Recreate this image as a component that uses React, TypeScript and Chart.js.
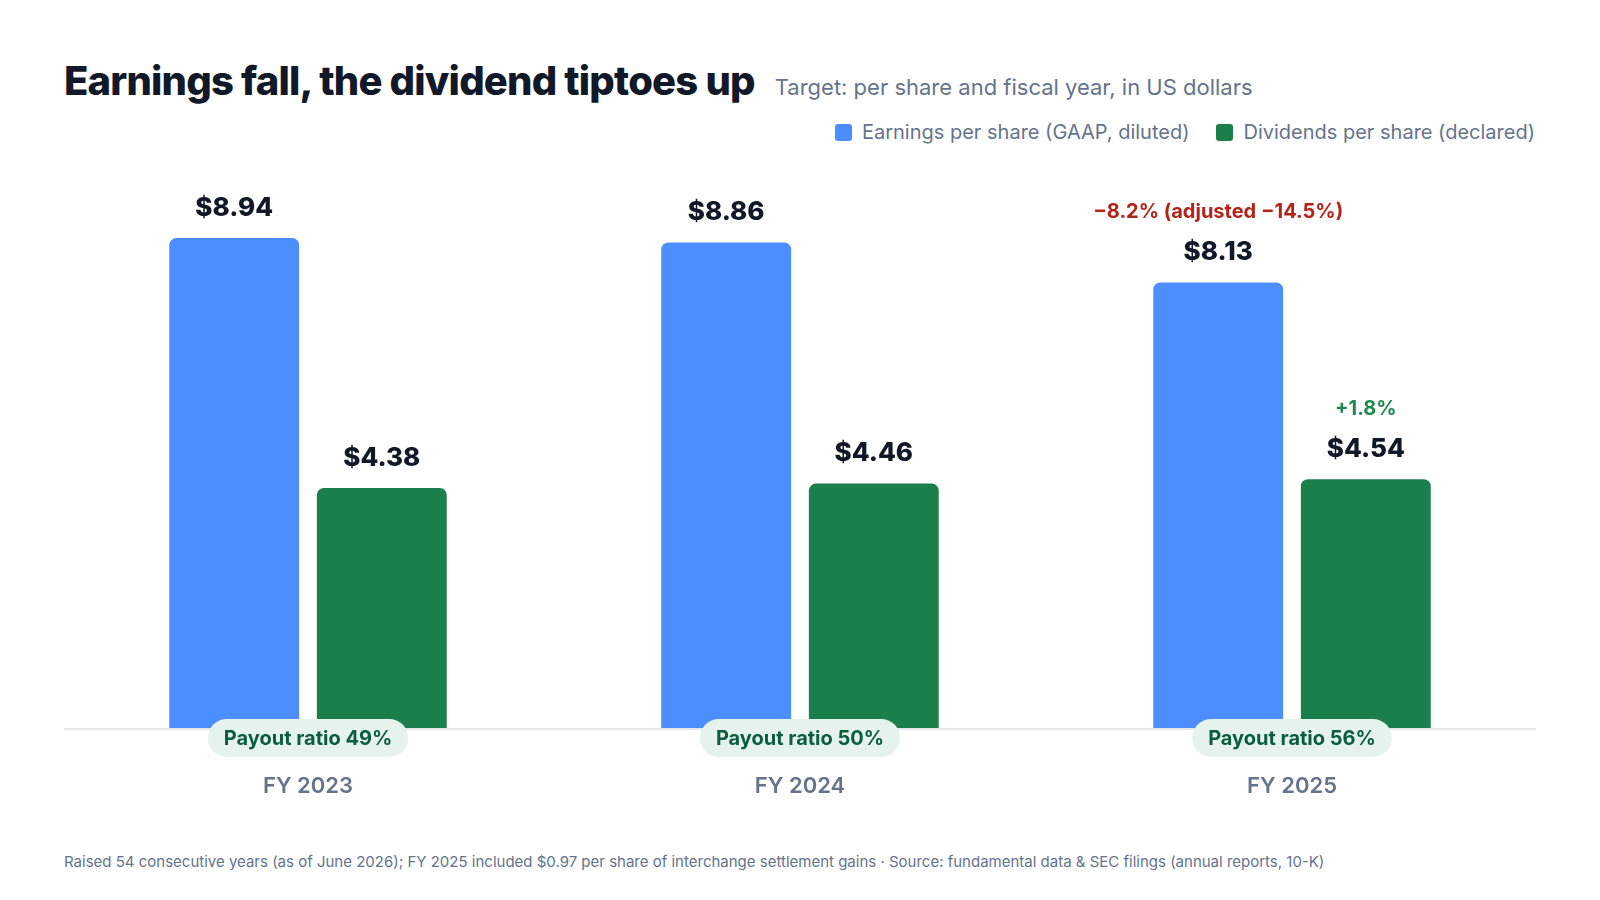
import React, { useEffect, useRef } from "react";
import { Chart, registerables } from "chart.js";

Chart.register(...registerables);

const categories = ["FY 2023", "FY 2024", "FY 2025"];
const epsValues = [8.94, 8.86, 8.13];
const dpsValues = [4.38, 4.46, 4.54];
const payoutRatios = [49, 50, 56];
const seriesLabels = ["Earnings per share (GAAP, diluted)", "Dividends per share (declared)"];
const changeNotes = [
  { dataset: 0, index: 2, text: "\u22128.2% (adjusted \u221214.5%)", color: "#B42318", size: 20 },
  { dataset: 1, index: 2, text: "+1.8%", color: "#1E8A4F", size: 20 },
];
const footerText =
  "Raised 54 consecutive years (as of June 2026); FY 2025 included $0.97 per share of interchange settlement gains \u00b7 Source: fundamental data & SEC filings (annual reports, 10-K)";

const BLUE = "#4C8DFF";
const GREEN = "#1B7F4C";
const FONT = "Inter, 'Noto Sans', sans-serif";

const annotatePlugin = {
  id: "annotate",
  beforeDatasetsDraw(chart: any) {
    const { ctx, chartArea } = chart;
    ctx.save();
    ctx.strokeStyle = "#E5E7EB";
    ctx.lineWidth = 2;
    ctx.beginPath();
    ctx.moveTo(chartArea.left + 2, chartArea.bottom + 1);
    ctx.lineTo(chartArea.right - 2, chartArea.bottom + 1);
    ctx.stroke();
    ctx.restore();
  },
  afterDatasetsDraw(chart: any) {
    const { ctx, chartArea } = chart;
    const xScale = chart.scales.x;
    ctx.save();
    ctx.textAlign = "center";
    ctx.textBaseline = "middle";
    // value labels
    chart.data.datasets.forEach((ds: any, di: number) => {
      const meta = chart.getDatasetMeta(di);
      meta.data.forEach((el: any, i: number) => {
        ctx.fillStyle = "#111827";
        ctx.font = `800 26px ${FONT}`;
        ctx.fillText(`$${ds.data[i].toFixed(2)}`, el.x, el.y - 30);
      });
    });
    // change notes
    changeNotes.forEach((n) => {
      const el = chart.getDatasetMeta(n.dataset).data[n.index];
      ctx.fillStyle = n.color;
      ctx.font = `700 ${n.size}px ${FONT}`;
      ctx.fillText(n.text, el.x, el.y - 70);
    });
    // payout pills + category labels
    categories.forEach((cat, i) => {
      const cx = xScale.getPixelForValue(i);
      const cy = chartArea.bottom + 10;
      const text = `Payout ratio ${payoutRatios[i]}%`;
      ctx.font = `700 20px ${FONT}`;
      const w = ctx.measureText(text).width + 32;
      const h = 38;
      ctx.fillStyle = "#E6F3EC";
      ctx.beginPath();
      ctx.roundRect(cx - w / 2, cy - h / 2, w, h, h / 2);
      ctx.fill();
      ctx.fillStyle = "#0B5E3B";
      ctx.fillText(text, cx, cy + 1);
      ctx.fillStyle = "#64748B";
      ctx.font = `600 22px ${FONT}`;
      ctx.fillText(cat, cx, chartArea.bottom + 58);
    });
    ctx.restore();
  },
};

function ChartCanvas() {
  const ref = useRef<HTMLCanvasElement | null>(null);
  useEffect(() => {
    if (!ref.current) return;
    const chart = new Chart(ref.current, {
      type: "bar",
      data: {
        labels: categories,
        datasets: [
          {
            label: seriesLabels[0],
            data: epsValues,
            backgroundColor: BLUE,
            borderRadius: 7,
            borderSkipped: "start",
            categoryPercentage: 0.6,
            barPercentage: 0.88,
          },
          {
            label: seriesLabels[1],
            data: dpsValues,
            backgroundColor: GREEN,
            borderRadius: 7,
            borderSkipped: "start",
            categoryPercentage: 0.6,
            barPercentage: 0.88,
          },
        ],
      },
      options: {
        animation: false,
        responsive: true,
        maintainAspectRatio: false,
        layout: { padding: { left: 54, right: 54, top: 20, bottom: 92 } },
        plugins: { legend: { display: false }, tooltip: { enabled: false }, title: { display: false } },
        scales: {
          x: { display: false },
          y: { display: false, min: 0, max: 10 },
        },
      },
      plugins: [annotatePlugin],
    });
    return () => chart.destroy();
  }, []);
  return (
    <div style={{ position: "absolute", left: 0, top: 152, width: 1584, height: 660 }}>
      <canvas ref={ref} />
    </div>
  );
}

export default function App() {
  return (
    <div style={{ position: "relative", width: 1584, height: 884, fontFamily: FONT, background: "#fff" }}>
      <div
        style={{
          position: "absolute",
          left: 56,
          top: 53,
          display: "flex",
          alignItems: "baseline",
          gap: 20,
          lineHeight: 1,
        }}
      >
        <span style={{ fontSize: 40, fontWeight: 800, color: "#111827", letterSpacing: -0.8 }}>
          Earnings fall, the dividend tiptoes up
        </span>
        <span style={{ fontSize: 22, color: "#64748B" }}>Target: per share and fiscal year, in US dollars</span>
      </div>
      <div
        style={{
          position: "absolute",
          right: 57,
          top: 114,
          display: "flex",
          alignItems: "center",
          gap: 27,
          fontSize: 20,
          color: "#64748B",
          lineHeight: "21px",
        }}
      >
        {seriesLabels.map((l, i) => (
          <div key={l} style={{ display: "flex", alignItems: "center", gap: 10 }}>
            <span
              style={{
                width: 17,
                height: 17,
                borderRadius: 3,
                background: i === 0 ? BLUE : GREEN,
                display: "inline-block",
              }}
            />
            <span>{l}</span>
          </div>
        ))}
      </div>
      <ChartCanvas />
      <div style={{ position: "absolute", left: 56, top: 846, fontSize: 15, color: "#64748B", lineHeight: "16px" }}>
        {footerText}
      </div>
    </div>
  );
}
